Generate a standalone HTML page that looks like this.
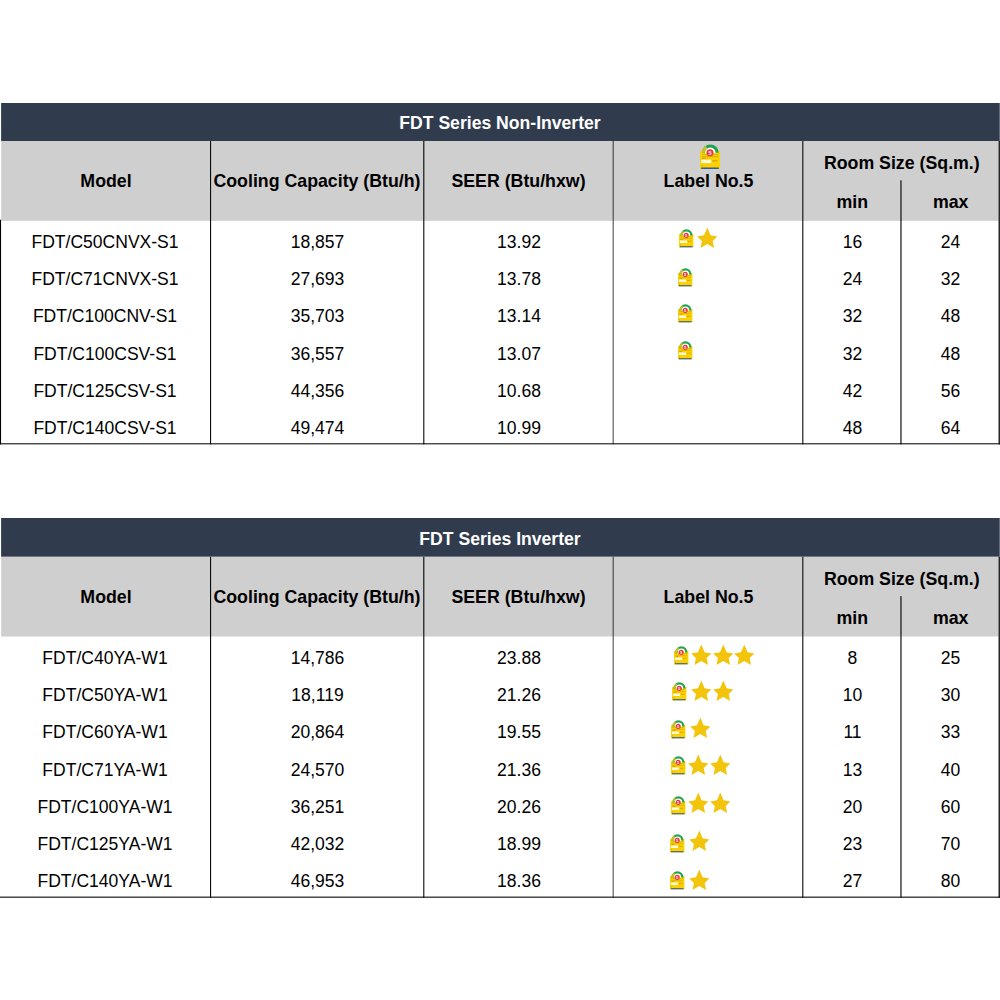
<!DOCTYPE html>
<html><head><meta charset="utf-8"><title>FDT Series</title>
<style>
html,body{margin:0;padding:0;background:#fff;}
body{width:1000px;height:1000px;position:relative;overflow:hidden;font-family:"Liberation Sans",sans-serif;color:#000;}
#bg{position:absolute;left:0;top:0;}
.t{position:absolute;white-space:nowrap;font-size:17.55px;line-height:20px;height:20px;text-align:center;transform:translateX(-50%);}
.h{font-weight:bold;font-size:17.75px;}
.tt{font-size:17.6px;}
.w{color:#fff;}
.ic{position:absolute;display:block;overflow:visible;}
</style></head><body>
<svg id="bg" width="1000" height="1000" viewBox="0 0 1000 1000">
<rect x="1.10" y="103.00" width="998.65" height="38.00" fill="#303c4e"/>
<rect x="1.20" y="141.00" width="997.30" height="79.85" fill="#d0cfcf"/>
<rect x="210.05" y="141.00" width="1.05" height="303.33" fill="#000"/>
<rect x="423.27" y="141.00" width="1.07" height="303.33" fill="#000"/>
<rect x="612.75" y="141.00" width="0.75" height="303.33" fill="#000"/>
<rect x="802.29" y="141.00" width="1.05" height="303.33" fill="#000"/>
<rect x="900.41" y="180.30" width="1.12" height="264.03" fill="#000"/>
<rect x="998.50" y="141.00" width="1.50" height="303.33" fill="#262626"/>
<rect x="0.00" y="219.75" width="1.05" height="224.58" fill="#000"/>
<rect x="0.00" y="443.30" width="1000.00" height="1.03" fill="#000"/>
<rect x="1.10" y="518.00" width="998.65" height="38.80" fill="#303c4e"/>
<rect x="1.20" y="556.80" width="997.30" height="79.70" fill="#d0cfcf"/>
<rect x="210.05" y="556.80" width="1.05" height="340.91" fill="#000"/>
<rect x="423.27" y="556.80" width="1.07" height="340.91" fill="#000"/>
<rect x="612.75" y="556.80" width="0.75" height="340.91" fill="#000"/>
<rect x="802.29" y="556.80" width="1.05" height="340.91" fill="#000"/>
<rect x="900.41" y="596.10" width="1.12" height="301.61" fill="#000"/>
<rect x="998.50" y="556.80" width="1.50" height="340.91" fill="#262626"/>
<rect x="0.00" y="896.63" width="1000.00" height="1.08" fill="#000"/>
</svg>

<div class="t h w tt" style="left:500px;top:112.60px">FDT Series Non-Inverter</div>
<div class="t h" style="left:106px;top:171.10px">Model</div>
<div class="t h" style="left:317px;top:171.10px">Cooling Capacity (Btu/h)</div>
<div class="t h" style="left:518.5px;top:171.10px">SEER (Btu/hxw)</div>
<div class="t h" style="left:708.5px;top:171.10px">Label No.5</div>
<div class="t h" style="left:901.8px;top:152.80px">Room Size (Sq.m.)</div>
<div class="t h" style="left:852.3px;top:191.90px">min</div>
<div class="t h" style="left:950.7px;top:191.90px">max</div>
<svg class="ic" style="left:700px;top:144px" width="20" height="25" viewBox="0 0 20 25" preserveAspectRatio="none">
<path d="M4.9 8.6 A5.4 5.4 0 0 1 15.7 8.6 Z" fill="#fff"/>
<rect x="0" y="7" width="20" height="18" fill="#fdd100"/>
<path d="M4.9 8.6 A5.4 5.4 0 0 1 15.7 8.6 L15.7 9.2 L4.9 9.2 Z" fill="#fff"/>
<path d="M1.9 8.8 A8.4 8.4 0 0 1 18.7 8.8 L15.7 8.8 A5.4 5.4 0 0 0 4.9 8.8 Z" fill="#1fa550"/>
<path d="M1.9 8.8 A8.4 8.4 0 0 1 5.6 1.9 L7.3 4.4 A5.4 5.4 0 0 0 4.9 8.8 Z" fill="#c9c224"/>
<rect x="1.6" y="10.1" width="16.8" height="0.6" fill="#c0a410"/>
<rect x="1.8" y="12.1" width="16.4" height="1.1" fill="#d2b010"/>
<rect x="1.8" y="13.8" width="4.2" height="0.9" fill="#bf9c12"/>
<rect x="1.2" y="15.7" width="10" height="3.4" fill="#fff9e0"/>
<rect x="12.4" y="16.1" width="5" height="1.4" fill="#cfaa08"/>
<rect x="1.6" y="20.6" width="1.1" height="1.9" fill="#d3b010"/>
<rect x="1.2" y="23.5" width="17.6" height="1.5" fill="#2f5a9c"/>
<circle cx="10" cy="8.7" r="3.5" fill="#ee3340"/>
<text x="10" y="10.7" font-family="Liberation Sans, sans-serif" font-weight="bold" font-size="5.6" fill="#fff" text-anchor="middle">5</text>
</svg>
<div class="t " style="left:105.0px;top:231.80px">FDT/C50CNVX-S1</div>
<div class="t " style="left:317.5px;top:231.80px">18,857</div>
<div class="t " style="left:519.0px;top:231.80px">13.92</div>
<div class="t " style="left:852.5px;top:231.80px">16</div>
<div class="t " style="left:950.5px;top:231.80px">24</div>
<svg class="ic" style="left:678.8px;top:228.7px" width="14.4" height="18.3" viewBox="0 0 20 25" preserveAspectRatio="none">
<path d="M4.9 8.6 A5.4 5.4 0 0 1 15.7 8.6 Z" fill="#fff"/>
<rect x="0" y="7" width="20" height="18" fill="#fdd100"/>
<path d="M4.9 8.6 A5.4 5.4 0 0 1 15.7 8.6 L15.7 9.2 L4.9 9.2 Z" fill="#fff"/>
<path d="M1.9 8.8 A8.4 8.4 0 0 1 18.7 8.8 L15.7 8.8 A5.4 5.4 0 0 0 4.9 8.8 Z" fill="#1fa550"/>
<path d="M1.9 8.8 A8.4 8.4 0 0 1 5.6 1.9 L7.3 4.4 A5.4 5.4 0 0 0 4.9 8.8 Z" fill="#c9c224"/>
<rect x="1.6" y="10.1" width="16.8" height="0.6" fill="#c0a410"/>
<rect x="1.8" y="12.1" width="16.4" height="1.1" fill="#d2b010"/>
<rect x="1.8" y="13.8" width="4.2" height="0.9" fill="#bf9c12"/>
<rect x="1.2" y="15.7" width="10" height="3.4" fill="#fff9e0"/>
<rect x="12.4" y="16.1" width="5" height="1.4" fill="#cfaa08"/>
<rect x="1.6" y="20.6" width="1.1" height="1.9" fill="#d3b010"/>
<rect x="1.2" y="23.5" width="17.6" height="1.5" fill="#2f5a9c"/>
<circle cx="10" cy="8.7" r="3.5" fill="#ee3340"/>
<text x="10" y="10.7" font-family="Liberation Sans, sans-serif" font-weight="bold" font-size="5.6" fill="#fff" text-anchor="middle">5</text>
</svg>
<svg class="ic" style="left:697.2px;top:227.5px" width="20" height="20" viewBox="0 0 20 20" preserveAspectRatio="none"><polygon points="10.3,-0.4 13.6,7.3 20.4,8.6 15.7,13.0 17.05,20.05 10.3,16.1 3.55,20.05 4.9,13.0 0.2,8.6 7.0,7.3" fill="#f2c40c"/></svg>
<div class="t " style="left:105.0px;top:269.05px">FDT/C71CNVX-S1</div>
<div class="t " style="left:317.5px;top:269.05px">27,693</div>
<div class="t " style="left:519.0px;top:269.05px">13.78</div>
<div class="t " style="left:852.5px;top:269.05px">24</div>
<div class="t " style="left:950.5px;top:269.05px">32</div>
<svg class="ic" style="left:677.6px;top:267.9px" width="14.4" height="18.3" viewBox="0 0 20 25" preserveAspectRatio="none">
<path d="M4.9 8.6 A5.4 5.4 0 0 1 15.7 8.6 Z" fill="#fff"/>
<rect x="0" y="7" width="20" height="18" fill="#fdd100"/>
<path d="M4.9 8.6 A5.4 5.4 0 0 1 15.7 8.6 L15.7 9.2 L4.9 9.2 Z" fill="#fff"/>
<path d="M1.9 8.8 A8.4 8.4 0 0 1 18.7 8.8 L15.7 8.8 A5.4 5.4 0 0 0 4.9 8.8 Z" fill="#1fa550"/>
<path d="M1.9 8.8 A8.4 8.4 0 0 1 5.6 1.9 L7.3 4.4 A5.4 5.4 0 0 0 4.9 8.8 Z" fill="#c9c224"/>
<rect x="1.6" y="10.1" width="16.8" height="0.6" fill="#c0a410"/>
<rect x="1.8" y="12.1" width="16.4" height="1.1" fill="#d2b010"/>
<rect x="1.8" y="13.8" width="4.2" height="0.9" fill="#bf9c12"/>
<rect x="1.2" y="15.7" width="10" height="3.4" fill="#fff9e0"/>
<rect x="12.4" y="16.1" width="5" height="1.4" fill="#cfaa08"/>
<rect x="1.6" y="20.6" width="1.1" height="1.9" fill="#d3b010"/>
<rect x="1.2" y="23.5" width="17.6" height="1.5" fill="#2f5a9c"/>
<circle cx="10" cy="8.7" r="3.5" fill="#ee3340"/>
<text x="10" y="10.7" font-family="Liberation Sans, sans-serif" font-weight="bold" font-size="5.6" fill="#fff" text-anchor="middle">5</text>
</svg>
<div class="t " style="left:105.0px;top:306.30px">FDT/C100CNV-S1</div>
<div class="t " style="left:317.5px;top:306.30px">35,703</div>
<div class="t " style="left:519.0px;top:306.30px">13.14</div>
<div class="t " style="left:852.5px;top:306.30px">32</div>
<div class="t " style="left:950.5px;top:306.30px">48</div>
<svg class="ic" style="left:677.6px;top:304.3px" width="14.4" height="18.3" viewBox="0 0 20 25" preserveAspectRatio="none">
<path d="M4.9 8.6 A5.4 5.4 0 0 1 15.7 8.6 Z" fill="#fff"/>
<rect x="0" y="7" width="20" height="18" fill="#fdd100"/>
<path d="M4.9 8.6 A5.4 5.4 0 0 1 15.7 8.6 L15.7 9.2 L4.9 9.2 Z" fill="#fff"/>
<path d="M1.9 8.8 A8.4 8.4 0 0 1 18.7 8.8 L15.7 8.8 A5.4 5.4 0 0 0 4.9 8.8 Z" fill="#1fa550"/>
<path d="M1.9 8.8 A8.4 8.4 0 0 1 5.6 1.9 L7.3 4.4 A5.4 5.4 0 0 0 4.9 8.8 Z" fill="#c9c224"/>
<rect x="1.6" y="10.1" width="16.8" height="0.6" fill="#c0a410"/>
<rect x="1.8" y="12.1" width="16.4" height="1.1" fill="#d2b010"/>
<rect x="1.8" y="13.8" width="4.2" height="0.9" fill="#bf9c12"/>
<rect x="1.2" y="15.7" width="10" height="3.4" fill="#fff9e0"/>
<rect x="12.4" y="16.1" width="5" height="1.4" fill="#cfaa08"/>
<rect x="1.6" y="20.6" width="1.1" height="1.9" fill="#d3b010"/>
<rect x="1.2" y="23.5" width="17.6" height="1.5" fill="#2f5a9c"/>
<circle cx="10" cy="8.7" r="3.5" fill="#ee3340"/>
<text x="10" y="10.7" font-family="Liberation Sans, sans-serif" font-weight="bold" font-size="5.6" fill="#fff" text-anchor="middle">5</text>
</svg>
<div class="t " style="left:105.0px;top:343.55px">FDT/C100CSV-S1</div>
<div class="t " style="left:317.5px;top:343.55px">36,557</div>
<div class="t " style="left:519.0px;top:343.55px">13.07</div>
<div class="t " style="left:852.5px;top:343.55px">32</div>
<div class="t " style="left:950.5px;top:343.55px">48</div>
<svg class="ic" style="left:677.6px;top:341.4px" width="14.4" height="18.3" viewBox="0 0 20 25" preserveAspectRatio="none">
<path d="M4.9 8.6 A5.4 5.4 0 0 1 15.7 8.6 Z" fill="#fff"/>
<rect x="0" y="7" width="20" height="18" fill="#fdd100"/>
<path d="M4.9 8.6 A5.4 5.4 0 0 1 15.7 8.6 L15.7 9.2 L4.9 9.2 Z" fill="#fff"/>
<path d="M1.9 8.8 A8.4 8.4 0 0 1 18.7 8.8 L15.7 8.8 A5.4 5.4 0 0 0 4.9 8.8 Z" fill="#1fa550"/>
<path d="M1.9 8.8 A8.4 8.4 0 0 1 5.6 1.9 L7.3 4.4 A5.4 5.4 0 0 0 4.9 8.8 Z" fill="#c9c224"/>
<rect x="1.6" y="10.1" width="16.8" height="0.6" fill="#c0a410"/>
<rect x="1.8" y="12.1" width="16.4" height="1.1" fill="#d2b010"/>
<rect x="1.8" y="13.8" width="4.2" height="0.9" fill="#bf9c12"/>
<rect x="1.2" y="15.7" width="10" height="3.4" fill="#fff9e0"/>
<rect x="12.4" y="16.1" width="5" height="1.4" fill="#cfaa08"/>
<rect x="1.6" y="20.6" width="1.1" height="1.9" fill="#d3b010"/>
<rect x="1.2" y="23.5" width="17.6" height="1.5" fill="#2f5a9c"/>
<circle cx="10" cy="8.7" r="3.5" fill="#ee3340"/>
<text x="10" y="10.7" font-family="Liberation Sans, sans-serif" font-weight="bold" font-size="5.6" fill="#fff" text-anchor="middle">5</text>
</svg>
<div class="t " style="left:105.0px;top:380.80px">FDT/C125CSV-S1</div>
<div class="t " style="left:317.5px;top:380.80px">44,356</div>
<div class="t " style="left:519.0px;top:380.80px">10.68</div>
<div class="t " style="left:852.5px;top:380.80px">42</div>
<div class="t " style="left:950.5px;top:380.80px">56</div>
<div class="t " style="left:105.0px;top:418.05px">FDT/C140CSV-S1</div>
<div class="t " style="left:317.5px;top:418.05px">49,474</div>
<div class="t " style="left:519.0px;top:418.05px">10.99</div>
<div class="t " style="left:852.5px;top:418.05px">48</div>
<div class="t " style="left:950.5px;top:418.05px">64</div>
<div class="t h w tt" style="left:500px;top:528.60px">FDT Series Inverter</div>
<div class="t h" style="left:106px;top:586.90px">Model</div>
<div class="t h" style="left:317px;top:586.90px">Cooling Capacity (Btu/h)</div>
<div class="t h" style="left:518.5px;top:586.90px">SEER (Btu/hxw)</div>
<div class="t h" style="left:708.5px;top:586.90px">Label No.5</div>
<div class="t h" style="left:901.8px;top:568.60px">Room Size (Sq.m.)</div>
<div class="t h" style="left:852.3px;top:607.70px">min</div>
<div class="t h" style="left:950.7px;top:607.70px">max</div>
<div class="t " style="left:105.0px;top:647.80px">FDT/C40YA-W1</div>
<div class="t " style="left:317.5px;top:647.80px">14,786</div>
<div class="t " style="left:519.0px;top:647.80px">23.88</div>
<div class="t " style="left:852.5px;top:647.80px">8</div>
<div class="t " style="left:950.5px;top:647.80px">25</div>
<svg class="ic" style="left:673.8px;top:645.8px" width="14.4" height="18.3" viewBox="0 0 20 25" preserveAspectRatio="none">
<path d="M4.9 8.6 A5.4 5.4 0 0 1 15.7 8.6 Z" fill="#fff"/>
<rect x="0" y="7" width="20" height="18" fill="#fdd100"/>
<path d="M4.9 8.6 A5.4 5.4 0 0 1 15.7 8.6 L15.7 9.2 L4.9 9.2 Z" fill="#fff"/>
<path d="M1.9 8.8 A8.4 8.4 0 0 1 18.7 8.8 L15.7 8.8 A5.4 5.4 0 0 0 4.9 8.8 Z" fill="#1fa550"/>
<path d="M1.9 8.8 A8.4 8.4 0 0 1 5.6 1.9 L7.3 4.4 A5.4 5.4 0 0 0 4.9 8.8 Z" fill="#c9c224"/>
<rect x="1.6" y="10.1" width="16.8" height="0.6" fill="#c0a410"/>
<rect x="1.8" y="12.1" width="16.4" height="1.1" fill="#d2b010"/>
<rect x="1.8" y="13.8" width="4.2" height="0.9" fill="#bf9c12"/>
<rect x="1.2" y="15.7" width="10" height="3.4" fill="#fff9e0"/>
<rect x="12.4" y="16.1" width="5" height="1.4" fill="#cfaa08"/>
<rect x="1.6" y="20.6" width="1.1" height="1.9" fill="#d3b010"/>
<rect x="1.2" y="23.5" width="17.6" height="1.5" fill="#2f5a9c"/>
<circle cx="10" cy="8.7" r="3.5" fill="#ee3340"/>
<text x="10" y="10.7" font-family="Liberation Sans, sans-serif" font-weight="bold" font-size="5.6" fill="#fff" text-anchor="middle">5</text>
</svg>
<svg class="ic" style="left:691.1px;top:644.6px" width="20" height="20" viewBox="0 0 20 20" preserveAspectRatio="none"><polygon points="10.3,-0.4 13.6,7.3 20.4,8.6 15.7,13.0 17.05,20.05 10.3,16.1 3.55,20.05 4.9,13.0 0.2,8.6 7.0,7.3" fill="#f2c40c"/></svg>
<svg class="ic" style="left:713.1px;top:644.6px" width="20" height="20" viewBox="0 0 20 20" preserveAspectRatio="none"><polygon points="10.3,-0.4 13.6,7.3 20.4,8.6 15.7,13.0 17.05,20.05 10.3,16.1 3.55,20.05 4.9,13.0 0.2,8.6 7.0,7.3" fill="#f2c40c"/></svg>
<svg class="ic" style="left:734.4px;top:644.6px" width="20" height="20" viewBox="0 0 20 20" preserveAspectRatio="none"><polygon points="10.3,-0.4 13.6,7.3 20.4,8.6 15.7,13.0 17.05,20.05 10.3,16.1 3.55,20.05 4.9,13.0 0.2,8.6 7.0,7.3" fill="#f2c40c"/></svg>
<div class="t " style="left:105.0px;top:685.07px">FDT/C50YA-W1</div>
<div class="t " style="left:317.5px;top:685.07px">18,119</div>
<div class="t " style="left:519.0px;top:685.07px">21.26</div>
<div class="t " style="left:852.5px;top:685.07px">10</div>
<div class="t " style="left:950.5px;top:685.07px">30</div>
<svg class="ic" style="left:672.2px;top:682.2px" width="14.4" height="18.3" viewBox="0 0 20 25" preserveAspectRatio="none">
<path d="M4.9 8.6 A5.4 5.4 0 0 1 15.7 8.6 Z" fill="#fff"/>
<rect x="0" y="7" width="20" height="18" fill="#fdd100"/>
<path d="M4.9 8.6 A5.4 5.4 0 0 1 15.7 8.6 L15.7 9.2 L4.9 9.2 Z" fill="#fff"/>
<path d="M1.9 8.8 A8.4 8.4 0 0 1 18.7 8.8 L15.7 8.8 A5.4 5.4 0 0 0 4.9 8.8 Z" fill="#1fa550"/>
<path d="M1.9 8.8 A8.4 8.4 0 0 1 5.6 1.9 L7.3 4.4 A5.4 5.4 0 0 0 4.9 8.8 Z" fill="#c9c224"/>
<rect x="1.6" y="10.1" width="16.8" height="0.6" fill="#c0a410"/>
<rect x="1.8" y="12.1" width="16.4" height="1.1" fill="#d2b010"/>
<rect x="1.8" y="13.8" width="4.2" height="0.9" fill="#bf9c12"/>
<rect x="1.2" y="15.7" width="10" height="3.4" fill="#fff9e0"/>
<rect x="12.4" y="16.1" width="5" height="1.4" fill="#cfaa08"/>
<rect x="1.6" y="20.6" width="1.1" height="1.9" fill="#d3b010"/>
<rect x="1.2" y="23.5" width="17.6" height="1.5" fill="#2f5a9c"/>
<circle cx="10" cy="8.7" r="3.5" fill="#ee3340"/>
<text x="10" y="10.7" font-family="Liberation Sans, sans-serif" font-weight="bold" font-size="5.6" fill="#fff" text-anchor="middle">5</text>
</svg>
<svg class="ic" style="left:691.1px;top:681px" width="20" height="20" viewBox="0 0 20 20" preserveAspectRatio="none"><polygon points="10.3,-0.4 13.6,7.3 20.4,8.6 15.7,13.0 17.05,20.05 10.3,16.1 3.55,20.05 4.9,13.0 0.2,8.6 7.0,7.3" fill="#f2c40c"/></svg>
<svg class="ic" style="left:713.1px;top:681px" width="20" height="20" viewBox="0 0 20 20" preserveAspectRatio="none"><polygon points="10.3,-0.4 13.6,7.3 20.4,8.6 15.7,13.0 17.05,20.05 10.3,16.1 3.55,20.05 4.9,13.0 0.2,8.6 7.0,7.3" fill="#f2c40c"/></svg>
<div class="t " style="left:105.0px;top:722.34px">FDT/C60YA-W1</div>
<div class="t " style="left:317.5px;top:722.34px">20,864</div>
<div class="t " style="left:519.0px;top:722.34px">19.55</div>
<div class="t " style="left:852.5px;top:722.34px">11</div>
<div class="t " style="left:950.5px;top:722.34px">33</div>
<svg class="ic" style="left:671.3px;top:720.3px" width="14.4" height="18.3" viewBox="0 0 20 25" preserveAspectRatio="none">
<path d="M4.9 8.6 A5.4 5.4 0 0 1 15.7 8.6 Z" fill="#fff"/>
<rect x="0" y="7" width="20" height="18" fill="#fdd100"/>
<path d="M4.9 8.6 A5.4 5.4 0 0 1 15.7 8.6 L15.7 9.2 L4.9 9.2 Z" fill="#fff"/>
<path d="M1.9 8.8 A8.4 8.4 0 0 1 18.7 8.8 L15.7 8.8 A5.4 5.4 0 0 0 4.9 8.8 Z" fill="#1fa550"/>
<path d="M1.9 8.8 A8.4 8.4 0 0 1 5.6 1.9 L7.3 4.4 A5.4 5.4 0 0 0 4.9 8.8 Z" fill="#c9c224"/>
<rect x="1.6" y="10.1" width="16.8" height="0.6" fill="#c0a410"/>
<rect x="1.8" y="12.1" width="16.4" height="1.1" fill="#d2b010"/>
<rect x="1.8" y="13.8" width="4.2" height="0.9" fill="#bf9c12"/>
<rect x="1.2" y="15.7" width="10" height="3.4" fill="#fff9e0"/>
<rect x="12.4" y="16.1" width="5" height="1.4" fill="#cfaa08"/>
<rect x="1.6" y="20.6" width="1.1" height="1.9" fill="#d3b010"/>
<rect x="1.2" y="23.5" width="17.6" height="1.5" fill="#2f5a9c"/>
<circle cx="10" cy="8.7" r="3.5" fill="#ee3340"/>
<text x="10" y="10.7" font-family="Liberation Sans, sans-serif" font-weight="bold" font-size="5.6" fill="#fff" text-anchor="middle">5</text>
</svg>
<svg class="ic" style="left:690.1px;top:718.1px" width="20" height="20" viewBox="0 0 20 20" preserveAspectRatio="none"><polygon points="10.3,-0.4 13.6,7.3 20.4,8.6 15.7,13.0 17.05,20.05 10.3,16.1 3.55,20.05 4.9,13.0 0.2,8.6 7.0,7.3" fill="#f2c40c"/></svg>
<div class="t " style="left:105.0px;top:759.61px">FDT/C71YA-W1</div>
<div class="t " style="left:317.5px;top:759.61px">24,570</div>
<div class="t " style="left:519.0px;top:759.61px">21.36</div>
<div class="t " style="left:852.5px;top:759.61px">13</div>
<div class="t " style="left:950.5px;top:759.61px">40</div>
<svg class="ic" style="left:670.8px;top:756.3px" width="14.4" height="18.3" viewBox="0 0 20 25" preserveAspectRatio="none">
<path d="M4.9 8.6 A5.4 5.4 0 0 1 15.7 8.6 Z" fill="#fff"/>
<rect x="0" y="7" width="20" height="18" fill="#fdd100"/>
<path d="M4.9 8.6 A5.4 5.4 0 0 1 15.7 8.6 L15.7 9.2 L4.9 9.2 Z" fill="#fff"/>
<path d="M1.9 8.8 A8.4 8.4 0 0 1 18.7 8.8 L15.7 8.8 A5.4 5.4 0 0 0 4.9 8.8 Z" fill="#1fa550"/>
<path d="M1.9 8.8 A8.4 8.4 0 0 1 5.6 1.9 L7.3 4.4 A5.4 5.4 0 0 0 4.9 8.8 Z" fill="#c9c224"/>
<rect x="1.6" y="10.1" width="16.8" height="0.6" fill="#c0a410"/>
<rect x="1.8" y="12.1" width="16.4" height="1.1" fill="#d2b010"/>
<rect x="1.8" y="13.8" width="4.2" height="0.9" fill="#bf9c12"/>
<rect x="1.2" y="15.7" width="10" height="3.4" fill="#fff9e0"/>
<rect x="12.4" y="16.1" width="5" height="1.4" fill="#cfaa08"/>
<rect x="1.6" y="20.6" width="1.1" height="1.9" fill="#d3b010"/>
<rect x="1.2" y="23.5" width="17.6" height="1.5" fill="#2f5a9c"/>
<circle cx="10" cy="8.7" r="3.5" fill="#ee3340"/>
<text x="10" y="10.7" font-family="Liberation Sans, sans-serif" font-weight="bold" font-size="5.6" fill="#fff" text-anchor="middle">5</text>
</svg>
<svg class="ic" style="left:688.4px;top:754.5px" width="20" height="20" viewBox="0 0 20 20" preserveAspectRatio="none"><polygon points="10.3,-0.4 13.6,7.3 20.4,8.6 15.7,13.0 17.05,20.05 10.3,16.1 3.55,20.05 4.9,13.0 0.2,8.6 7.0,7.3" fill="#f2c40c"/></svg>
<svg class="ic" style="left:710.4px;top:754.5px" width="20" height="20" viewBox="0 0 20 20" preserveAspectRatio="none"><polygon points="10.3,-0.4 13.6,7.3 20.4,8.6 15.7,13.0 17.05,20.05 10.3,16.1 3.55,20.05 4.9,13.0 0.2,8.6 7.0,7.3" fill="#f2c40c"/></svg>
<div class="t " style="left:105.0px;top:796.88px">FDT/C100YA-W1</div>
<div class="t " style="left:317.5px;top:796.88px">36,251</div>
<div class="t " style="left:519.0px;top:796.88px">20.26</div>
<div class="t " style="left:852.5px;top:796.88px">20</div>
<div class="t " style="left:950.5px;top:796.88px">60</div>
<svg class="ic" style="left:670.8px;top:795.7px" width="14.4" height="18.3" viewBox="0 0 20 25" preserveAspectRatio="none">
<path d="M4.9 8.6 A5.4 5.4 0 0 1 15.7 8.6 Z" fill="#fff"/>
<rect x="0" y="7" width="20" height="18" fill="#fdd100"/>
<path d="M4.9 8.6 A5.4 5.4 0 0 1 15.7 8.6 L15.7 9.2 L4.9 9.2 Z" fill="#fff"/>
<path d="M1.9 8.8 A8.4 8.4 0 0 1 18.7 8.8 L15.7 8.8 A5.4 5.4 0 0 0 4.9 8.8 Z" fill="#1fa550"/>
<path d="M1.9 8.8 A8.4 8.4 0 0 1 5.6 1.9 L7.3 4.4 A5.4 5.4 0 0 0 4.9 8.8 Z" fill="#c9c224"/>
<rect x="1.6" y="10.1" width="16.8" height="0.6" fill="#c0a410"/>
<rect x="1.8" y="12.1" width="16.4" height="1.1" fill="#d2b010"/>
<rect x="1.8" y="13.8" width="4.2" height="0.9" fill="#bf9c12"/>
<rect x="1.2" y="15.7" width="10" height="3.4" fill="#fff9e0"/>
<rect x="12.4" y="16.1" width="5" height="1.4" fill="#cfaa08"/>
<rect x="1.6" y="20.6" width="1.1" height="1.9" fill="#d3b010"/>
<rect x="1.2" y="23.5" width="17.6" height="1.5" fill="#2f5a9c"/>
<circle cx="10" cy="8.7" r="3.5" fill="#ee3340"/>
<text x="10" y="10.7" font-family="Liberation Sans, sans-serif" font-weight="bold" font-size="5.6" fill="#fff" text-anchor="middle">5</text>
</svg>
<svg class="ic" style="left:688.4px;top:792.7px" width="20" height="20" viewBox="0 0 20 20" preserveAspectRatio="none"><polygon points="10.3,-0.4 13.6,7.3 20.4,8.6 15.7,13.0 17.05,20.05 10.3,16.1 3.55,20.05 4.9,13.0 0.2,8.6 7.0,7.3" fill="#f2c40c"/></svg>
<svg class="ic" style="left:710.4px;top:792.7px" width="20" height="20" viewBox="0 0 20 20" preserveAspectRatio="none"><polygon points="10.3,-0.4 13.6,7.3 20.4,8.6 15.7,13.0 17.05,20.05 10.3,16.1 3.55,20.05 4.9,13.0 0.2,8.6 7.0,7.3" fill="#f2c40c"/></svg>
<div class="t " style="left:105.0px;top:834.15px">FDT/C125YA-W1</div>
<div class="t " style="left:317.5px;top:834.15px">42,032</div>
<div class="t " style="left:519.0px;top:834.15px">18.99</div>
<div class="t " style="left:852.5px;top:834.15px">23</div>
<div class="t " style="left:950.5px;top:834.15px">70</div>
<svg class="ic" style="left:669.5px;top:834px" width="14.4" height="18.3" viewBox="0 0 20 25" preserveAspectRatio="none">
<path d="M4.9 8.6 A5.4 5.4 0 0 1 15.7 8.6 Z" fill="#fff"/>
<rect x="0" y="7" width="20" height="18" fill="#fdd100"/>
<path d="M4.9 8.6 A5.4 5.4 0 0 1 15.7 8.6 L15.7 9.2 L4.9 9.2 Z" fill="#fff"/>
<path d="M1.9 8.8 A8.4 8.4 0 0 1 18.7 8.8 L15.7 8.8 A5.4 5.4 0 0 0 4.9 8.8 Z" fill="#1fa550"/>
<path d="M1.9 8.8 A8.4 8.4 0 0 1 5.6 1.9 L7.3 4.4 A5.4 5.4 0 0 0 4.9 8.8 Z" fill="#c9c224"/>
<rect x="1.6" y="10.1" width="16.8" height="0.6" fill="#c0a410"/>
<rect x="1.8" y="12.1" width="16.4" height="1.1" fill="#d2b010"/>
<rect x="1.8" y="13.8" width="4.2" height="0.9" fill="#bf9c12"/>
<rect x="1.2" y="15.7" width="10" height="3.4" fill="#fff9e0"/>
<rect x="12.4" y="16.1" width="5" height="1.4" fill="#cfaa08"/>
<rect x="1.6" y="20.6" width="1.1" height="1.9" fill="#d3b010"/>
<rect x="1.2" y="23.5" width="17.6" height="1.5" fill="#2f5a9c"/>
<circle cx="10" cy="8.7" r="3.5" fill="#ee3340"/>
<text x="10" y="10.7" font-family="Liberation Sans, sans-serif" font-weight="bold" font-size="5.6" fill="#fff" text-anchor="middle">5</text>
</svg>
<svg class="ic" style="left:689.0px;top:831px" width="20" height="20" viewBox="0 0 20 20" preserveAspectRatio="none"><polygon points="10.3,-0.4 13.6,7.3 20.4,8.6 15.7,13.0 17.05,20.05 10.3,16.1 3.55,20.05 4.9,13.0 0.2,8.6 7.0,7.3" fill="#f2c40c"/></svg>
<div class="t " style="left:105.0px;top:871.42px">FDT/C140YA-W1</div>
<div class="t " style="left:317.5px;top:871.42px">46,953</div>
<div class="t " style="left:519.0px;top:871.42px">18.36</div>
<div class="t " style="left:852.5px;top:871.42px">27</div>
<div class="t " style="left:950.5px;top:871.42px">80</div>
<svg class="ic" style="left:669.5px;top:870.6px" width="14.4" height="18.3" viewBox="0 0 20 25" preserveAspectRatio="none">
<path d="M4.9 8.6 A5.4 5.4 0 0 1 15.7 8.6 Z" fill="#fff"/>
<rect x="0" y="7" width="20" height="18" fill="#fdd100"/>
<path d="M4.9 8.6 A5.4 5.4 0 0 1 15.7 8.6 L15.7 9.2 L4.9 9.2 Z" fill="#fff"/>
<path d="M1.9 8.8 A8.4 8.4 0 0 1 18.7 8.8 L15.7 8.8 A5.4 5.4 0 0 0 4.9 8.8 Z" fill="#1fa550"/>
<path d="M1.9 8.8 A8.4 8.4 0 0 1 5.6 1.9 L7.3 4.4 A5.4 5.4 0 0 0 4.9 8.8 Z" fill="#c9c224"/>
<rect x="1.6" y="10.1" width="16.8" height="0.6" fill="#c0a410"/>
<rect x="1.8" y="12.1" width="16.4" height="1.1" fill="#d2b010"/>
<rect x="1.8" y="13.8" width="4.2" height="0.9" fill="#bf9c12"/>
<rect x="1.2" y="15.7" width="10" height="3.4" fill="#fff9e0"/>
<rect x="12.4" y="16.1" width="5" height="1.4" fill="#cfaa08"/>
<rect x="1.6" y="20.6" width="1.1" height="1.9" fill="#d3b010"/>
<rect x="1.2" y="23.5" width="17.6" height="1.5" fill="#2f5a9c"/>
<circle cx="10" cy="8.7" r="3.5" fill="#ee3340"/>
<text x="10" y="10.7" font-family="Liberation Sans, sans-serif" font-weight="bold" font-size="5.6" fill="#fff" text-anchor="middle">5</text>
</svg>
<svg class="ic" style="left:689.0px;top:869.5px" width="20" height="20" viewBox="0 0 20 20" preserveAspectRatio="none"><polygon points="10.3,-0.4 13.6,7.3 20.4,8.6 15.7,13.0 17.05,20.05 10.3,16.1 3.55,20.05 4.9,13.0 0.2,8.6 7.0,7.3" fill="#f2c40c"/></svg>
</body></html>
